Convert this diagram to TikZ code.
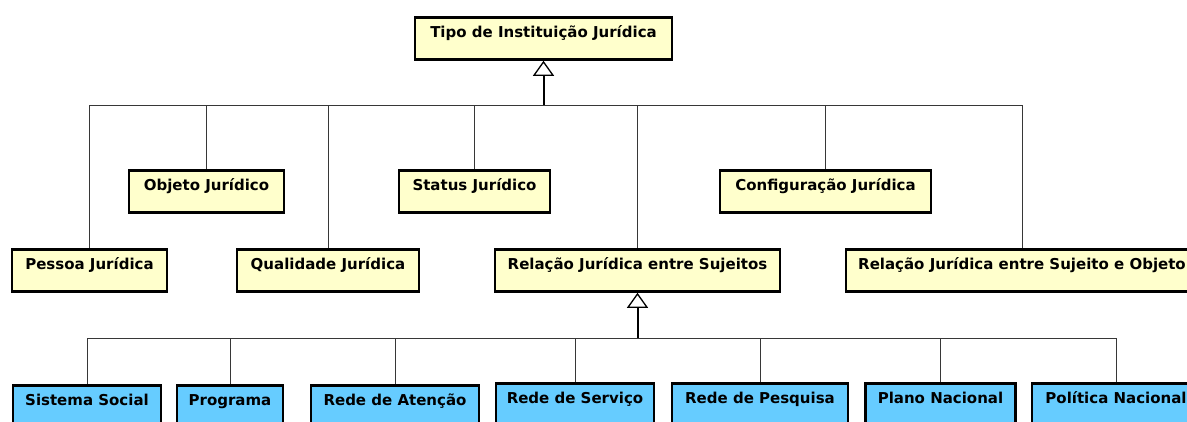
\documentclass[tikz,border=0pt]{standalone}
\usepackage{fontspec}
\setmainfont{DejaVu Sans}
\usetikzlibrary{arrows.meta}
\definecolor{ylw}{RGB}{255,255,204}
\definecolor{blu}{RGB}{102,204,255}
\definecolor{conn}{RGB}{55,55,55}
\begin{document}
\begin{tikzpicture}[x=1pt,y=-1pt,
  cls/.style={draw=black, line width=2.8pt, inner xsep=0pt, inner ysep=0pt,
    text height=20pt, text depth=22pt, anchor=north,
    font=\bfseries\fontsize{15}{18}\selectfont},
  ycls/.style={cls, fill=ylw},
  bcls/.style={cls, fill=blu},
  link/.style={draw=conn, line width=1pt},
  gen/.style={draw=black, line width=2pt,
    -{Triangle[open, length=15pt, width=21pt, line width=1.3pt]}}
]
\useasboundingbox (0,0) rectangle (1187,421);
\clip (0,0) rectangle (1187,421);
% top
\node[ycls, minimum width=257] (tipo) at (543.5,16) {Tipo de Instituição Jurídica};
% level 1
\node[ycls, minimum width=155] (objeto) at (206.5,169) {Objeto Jurídico};
\node[ycls, minimum width=151] (status) at (474.5,169) {Status Jurídico};
\node[ycls, minimum width=211] (config) at (825.5,169) {Configuração Jurídica};
\node[ycls, minimum width=155] (pessoa) at (89.5,248) {Pessoa Jurídica};
\node[ycls, minimum width=182] (qualid) at (328,248) {Qualidade Jurídica};
\node[ycls, minimum width=285] (suj) at (637.5,248) {Relação Jurídica entre Sujeitos};
\node[ycls, minimum width=352] (sujobj) at (1022,248) {Relação Jurídica entre Sujeito e Objeto};
% level 2
\node[bcls, minimum width=148] (sistema) at (87,384) {Sistema Social};
\node[bcls, minimum width=106] (programa) at (230,384) {Programa};
\node[bcls, minimum width=168] (atencao) at (395,384) {Rede de Atenção};
\node[bcls, minimum width=158] (servico) at (575,382) {Rede de Serviço};
\node[bcls, minimum width=176] (pesquisa) at (760,382) {Rede de Pesquisa};
\node[bcls, minimum width=150] (plano) at (940.5,382) {Plano Nacional};
\node[bcls, minimum width=168] (politica) at (1116,382) {Política Nacional};
% buses
\coordinate (bus1) at (543.5,105);
\coordinate (bus2) at (637.5,338);
\foreach \n in {pessoa,objeto,qualid,status,suj,config,sujobj}
  \draw[link] (\n.north) |- (bus1);
\foreach \n in {sistema,programa,atencao,servico,pesquisa,plano,politica}
  \draw[link] (\n.north) |- (bus2);
\draw[gen] (bus1) -- (tipo.south);
\draw[gen] (bus2) -- (suj.south);
\end{tikzpicture}
\end{document}
